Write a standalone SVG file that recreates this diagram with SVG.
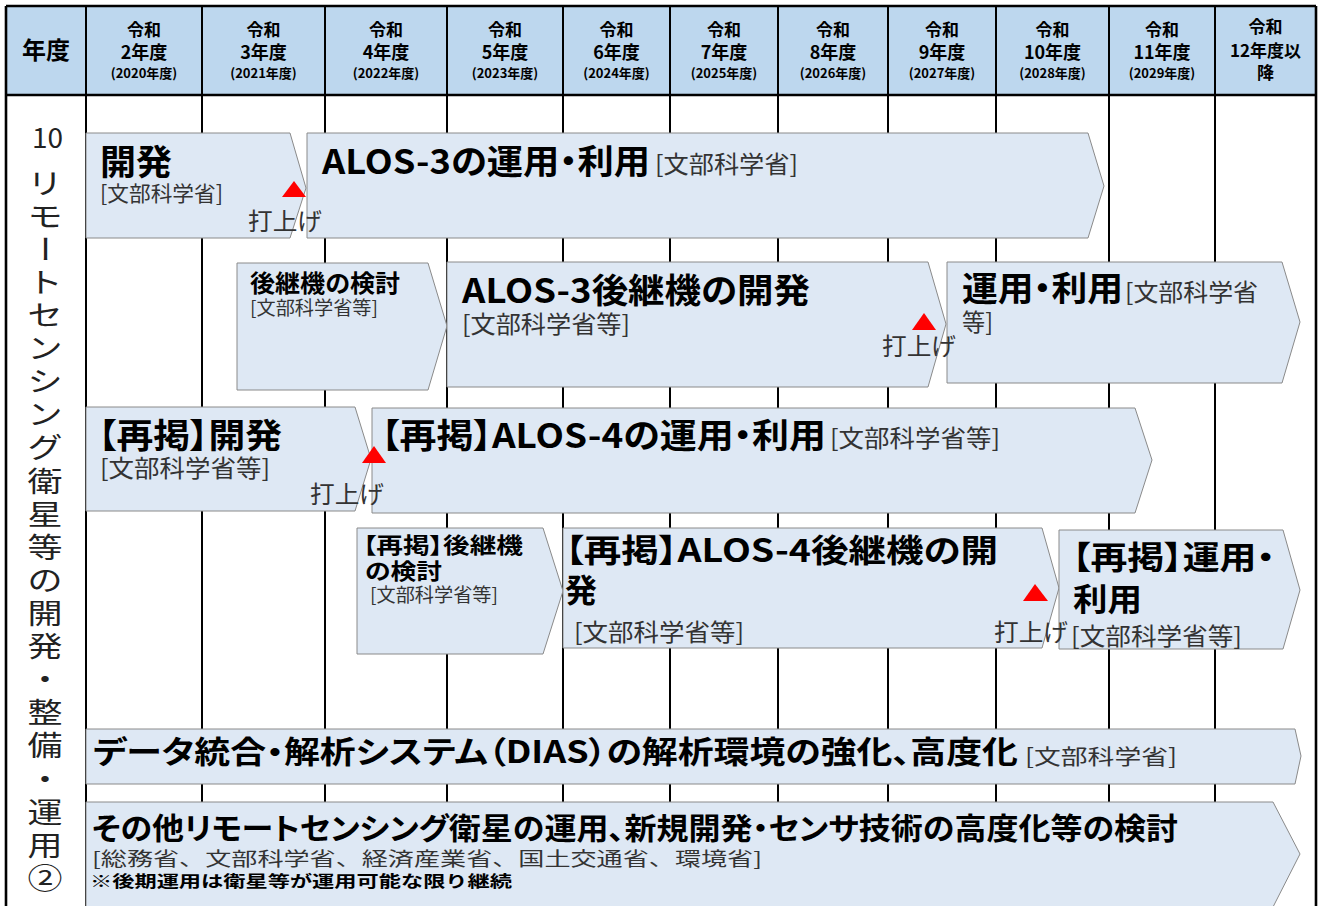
<svg xmlns="http://www.w3.org/2000/svg" width="1321" height="906" viewBox="0 0 1321 906">
<style>
.hd{font-family:"Noto Sans CJK JP","Noto Sans",sans-serif;font-weight:700;fill:#000;text-anchor:middle}
.b{font-family:"Noto Sans CJK JP","Noto Sans",sans-serif;font-weight:700;fill:#000;font-feature-settings:"palt"}
.t{font-family:"Noto Sans CJK JP","Noto Sans",sans-serif;font-weight:400;fill:#333}
.sh{fill:#DEE8F4;stroke:#8A8A8A;stroke-width:1}
.tri{fill:#FF0000}
.g{stroke:#000;stroke-width:2;fill:none}
.go{stroke:#000;stroke-width:2.6;fill:none}
.v{font-family:"Noto Sans CJK JP",sans-serif;font-size:28px;fill:#222;text-anchor:middle}
</style>
<rect x="0" y="0" width="1321" height="906" fill="#fff"/>
<g id="header">
<rect x="6" y="6" width="1310" height="89" fill="#BDD7EE"/>
<text class="hd" x="46" y="59" font-size="24">年度</text>
<text class="hd" x="144" y="36" font-size="17">令和</text><text class="hd" x="144" y="59" font-size="18">2年度</text><text class="hd" x="144" y="78" font-size="13">(2020年度)</text>
<text class="hd" x="263.5" y="36" font-size="17">令和</text><text class="hd" x="263.5" y="59" font-size="18">3年度</text><text class="hd" x="263.5" y="78" font-size="13">(2021年度)</text>
<text class="hd" x="386" y="36" font-size="17">令和</text><text class="hd" x="386" y="59" font-size="18">4年度</text><text class="hd" x="386" y="78" font-size="13">(2022年度)</text>
<text class="hd" x="505" y="36" font-size="17">令和</text><text class="hd" x="505" y="59" font-size="18">5年度</text><text class="hd" x="505" y="78" font-size="13">(2023年度)</text>
<text class="hd" x="616.5" y="36" font-size="17">令和</text><text class="hd" x="616.5" y="59" font-size="18">6年度</text><text class="hd" x="616.5" y="78" font-size="13">(2024年度)</text>
<text class="hd" x="724" y="36" font-size="17">令和</text><text class="hd" x="724" y="59" font-size="18">7年度</text><text class="hd" x="724" y="78" font-size="13">(2025年度)</text>
<text class="hd" x="833" y="36" font-size="17">令和</text><text class="hd" x="833" y="59" font-size="18">8年度</text><text class="hd" x="833" y="78" font-size="13">(2026年度)</text>
<text class="hd" x="942" y="36" font-size="17">令和</text><text class="hd" x="942" y="59" font-size="18">9年度</text><text class="hd" x="942" y="78" font-size="13">(2027年度)</text>
<text class="hd" x="1052.5" y="36" font-size="17">令和</text><text class="hd" x="1052.5" y="59" font-size="18">10年度</text><text class="hd" x="1052.5" y="78" font-size="13">(2028年度)</text>
<text class="hd" x="1162" y="36" font-size="17">令和</text><text class="hd" x="1162" y="59" font-size="18">11年度</text><text class="hd" x="1162" y="78" font-size="13">(2029年度)</text>
<text class="hd" x="1265.5" y="33" font-size="17">令和</text><text class="hd" x="1265.5" y="57" font-size="17">12年度以</text><text class="hd" x="1265.5" y="79" font-size="17">降</text>
</g>
<g id="grid">
<line class="g" x1="86" y1="6" x2="86" y2="906"/>
<line class="g" x1="202" y1="6" x2="202" y2="906"/>
<line class="g" x1="325" y1="6" x2="325" y2="906"/>
<line class="g" x1="447" y1="6" x2="447" y2="906"/>
<line class="g" x1="563" y1="6" x2="563" y2="906"/>
<line class="g" x1="670" y1="6" x2="670" y2="906"/>
<line class="g" x1="778" y1="6" x2="778" y2="906"/>
<line class="g" x1="888" y1="6" x2="888" y2="906"/>
<line class="g" x1="996" y1="6" x2="996" y2="906"/>
<line class="g" x1="1109" y1="6" x2="1109" y2="906"/>
<line class="g" x1="1215" y1="6" x2="1215" y2="906"/>
<line class="go" x1="6" y1="6" x2="1316" y2="6"/>
<line class="go" x1="6" y1="95" x2="1316" y2="95"/>
<line class="go" x1="6" y1="6" x2="6" y2="906"/>
<line class="go" x1="1316" y1="6" x2="1316" y2="906"/>
</g>
<g id="category">
<text class="v" x="47.5" y="148">10</text>
<g transform="translate(45 0) scale(1.25 1)">
<text class="v" x="0" y="193.6">リ</text>
<text class="v" x="0" y="226.7">モ</text>
<text class="v" x="0" y="259.8" transform="rotate(90 0 249)">ー</text>
<text class="v" x="0" y="292.9">ト</text>
<text class="v" x="0" y="326">セ</text>
<text class="v" x="0" y="359.2">ン</text>
<text class="v" x="0" y="392.3">シ</text>
<text class="v" x="0" y="425.4">ン</text>
<text class="v" x="0" y="458.5">グ</text>
<text class="v" x="0" y="491.6">衛</text>
<text class="v" x="0" y="524.7">星</text>
<text class="v" x="0" y="557.8">等</text>
<text class="v" x="0" y="590.9">の</text>
<text class="v" x="0" y="624.1">開</text>
<text class="v" x="0" y="657.2">発</text>
<text class="v" x="0" y="690.3">・</text>
<text class="v" x="0" y="723.4">整</text>
<text class="v" x="0" y="756.5">備</text>
<text class="v" x="0" y="789.6">・</text>
<text class="v" x="0" y="822.7">運</text>
<text class="v" x="0" y="855.8">用</text>
<text class="v" x="0" y="888.9">②</text>
</g>
</g>
<g id="alos3-dev">
<polygon class="sh" points="86,133 290,133 306,188 290,238 86,238"/>
<text class="b" x="100" y="175" font-size="35" textLength="72" lengthAdjust="spacingAndGlyphs">開発</text>
<text class="t" x="100" y="201" font-size="21" textLength="123" lengthAdjust="spacingAndGlyphs">[文部科学省]</text>
</g>
<g id="alos3-ops">
<polygon class="sh" points="307,133 1088,133 1104,186 1088,238 307,238"/>
<text class="b" x="322" y="174" font-size="34" textLength="328" lengthAdjust="spacingAndGlyphs">ALOS-3の運用・利用</text>
<text class="t" x="655" y="173" font-size="24" textLength="143" lengthAdjust="spacingAndGlyphs">[文部科学省]</text>
</g>
<g id="successor-study">
<polygon class="sh" points="237,263 428,263 447,326 428,390 237,390"/>
<text class="b" x="250" y="292" font-size="24" textLength="150" lengthAdjust="spacingAndGlyphs">後継機の検討</text>
<text class="t" x="250" y="315" font-size="19" textLength="128" lengthAdjust="spacingAndGlyphs">[文部科学省等]</text>
</g>
<g id="alos3-successor-dev">
<polygon class="sh" points="447,262 928,262 946,324 928,387 447,387"/>
<text class="b" x="462" y="303" font-size="34" textLength="348" lengthAdjust="spacingAndGlyphs">ALOS-3後継機の開発</text>
<text class="t" x="462" y="333" font-size="24" textLength="168" lengthAdjust="spacingAndGlyphs">[文部科学省等]</text>
</g>
<g id="alos3-successor-ops">
<polygon class="sh" points="947,262 1282,262 1300,322 1282,383 947,383"/>
<text class="b" x="962" y="301" font-size="34" textLength="161" lengthAdjust="spacingAndGlyphs">運用・利用</text>
<text class="t" x="1125" y="301" font-size="24" textLength="133" lengthAdjust="spacingAndGlyphs">[文部科学省</text>
<text class="t" x="962" y="331" font-size="24" textLength="31" lengthAdjust="spacingAndGlyphs">等]</text>
</g>
<g id="alos4-dev">
<polygon class="sh" points="86,407 355,407 371,459 355,511 86,511"/>
<text class="b" x="98" y="448" font-size="34" textLength="184" lengthAdjust="spacingAndGlyphs">【再掲】開発</text>
<text class="t" x="100" y="477" font-size="24" textLength="170" lengthAdjust="spacingAndGlyphs">[文部科学省等]</text>
</g>
<g id="alos4-ops">
<polygon class="sh" points="372,408 1135,408 1152,460 1135,513 372,513"/>
<text class="b" x="381" y="448" font-size="34" textLength="445" lengthAdjust="spacingAndGlyphs">【再掲】ALOS-4の運用・利用</text>
<text class="t" x="830" y="447" font-size="24" textLength="170" lengthAdjust="spacingAndGlyphs">[文部科学省等]</text>
</g>
<g id="alos4-successor-study">
<polygon class="sh" points="357,528 543,528 563,591 543,654 357,654"/>
<text class="b" x="363" y="553" font-size="22" textLength="160" lengthAdjust="spacingAndGlyphs">【再掲】後継機</text>
<text class="b" x="365" y="579" font-size="22" textLength="77" lengthAdjust="spacingAndGlyphs">の検討</text>
<text class="t" x="370" y="602" font-size="19" textLength="128" lengthAdjust="spacingAndGlyphs">[文部科学省等]</text>
</g>
<g id="alos4-successor-dev">
<polygon class="sh" points="563,528 1042,528 1059,588 1042,648 563,648"/>
<text class="b" x="565" y="562" font-size="32" textLength="433" lengthAdjust="spacingAndGlyphs">【再掲】ALOS-4後継機の開</text>
<text class="b" x="565" y="602" font-size="32">発</text>
<text class="t" x="574" y="641" font-size="24" textLength="170" lengthAdjust="spacingAndGlyphs">[文部科学省等]</text>
</g>
<g id="alos4-successor-ops">
<polygon class="sh" points="1059,530 1283,530 1300,590 1283,649 1059,649"/>
<text class="b" x="1072" y="569" font-size="32" textLength="203" lengthAdjust="spacingAndGlyphs">【再掲】運用・</text>
<text class="b" x="1073" y="611" font-size="32" textLength="69" lengthAdjust="spacingAndGlyphs">利用</text>
<text class="t" x="1071" y="645" font-size="24" textLength="171" lengthAdjust="spacingAndGlyphs">[文部科学省等]</text>
</g>
<g id="dias">
<polygon class="sh" points="86,729 1295,729 1301,756 1295,784 86,784"/>
<text class="b" x="93" y="763" font-size="31" textLength="925" lengthAdjust="spacingAndGlyphs">データ統合・解析システム（DIAS）の解析環境の強化、高度化</text>
<text class="t" x="1025" y="764" font-size="21" textLength="152" lengthAdjust="spacingAndGlyphs">[文部科学省]</text>
</g>
<g id="other-satellites">
<polygon class="sh" points="86,802 1273,802 1300,854 1273,907 86,907"/>
<text class="b" x="92" y="839" font-size="30" textLength="1086" lengthAdjust="spacingAndGlyphs">その他リモートセンシング衛星の運用、新規開発・センサ技術の高度化等の検討</text>
<text class="t" x="92" y="866" font-size="19" textLength="670" lengthAdjust="spacingAndGlyphs">[総務省、文部科学省、経済産業省、国土交通省、環境省]</text>
<text class="b" x="90" y="887" font-size="16" textLength="422" lengthAdjust="spacingAndGlyphs" style="font-feature-settings:normal">※後期運用は衛星等が運用可能な限り継続</text>
</g>
<g id="launches">
<polygon class="tri" points="282,197 306,197 294,181"/>
<text class="t" x="248" y="230" font-size="24" textLength="74" lengthAdjust="spacingAndGlyphs">打上げ</text>
<polygon class="tri" points="912,330 936,330 924,313"/>
<text class="t" x="882" y="355" font-size="24" textLength="74" lengthAdjust="spacingAndGlyphs">打上げ</text>
<polygon class="tri" points="362,463 386,463 374,446"/>
<text class="t" x="310" y="503" font-size="24" textLength="74" lengthAdjust="spacingAndGlyphs">打上げ</text>
<polygon class="tri" points="1023,601 1048,601 1035,584"/>
<text class="t" x="994" y="641" font-size="24" textLength="74" lengthAdjust="spacingAndGlyphs">打上げ</text>
</g>
</svg>
